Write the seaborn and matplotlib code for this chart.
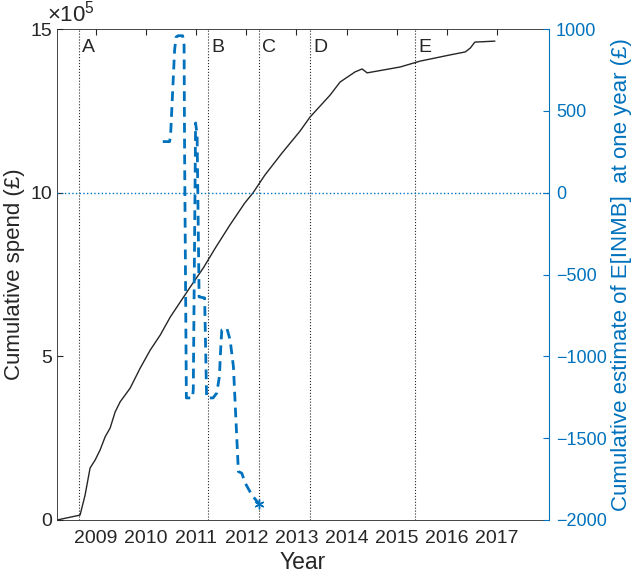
import numpy as np
import pandas as pd
import seaborn as sns
from matplotlib import pyplot as plt

# cumulative spend (pounds) over time
spend_year = [2008.22, 2008.68, 2008.78, 2008.88, 2008.98, 2009.08, 2009.18, 2009.28, 2009.38,
              2009.48, 2009.68, 2009.88, 2010.08, 2010.28, 2010.48, 2010.68, 2010.88, 2011.14,
              2011.38, 2011.67, 2011.97, 2012.13, 2012.37, 2012.71, 2013.07, 2013.27, 2013.67,
              2013.87, 2014.17, 2014.31, 2014.41, 2015.07, 2015.47, 2016.07, 2016.37, 2016.47,
              2016.56, 2016.96]
spend = [0, 15000, 76000, 159000, 183000, 214000, 254000, 281000, 330000,
         361000, 403000, 464000, 519000, 565000, 620000, 666000, 712000, 770000,
         831000, 901000, 969000, 999000, 1054000, 1121000, 1188000, 1231000, 1298000,
         1338000, 1369000, 1378000, 1366000, 1384000, 1402000, 1421000, 1430000, 1442000,
         1460000, 1463000]

# cumulative estimate of E[INMB] at one year (pounds)
inmb_year = [2010.331, 2010.467, 2010.487, 2010.567, 2010.597, 2010.637, 2010.727, 2010.756,
             2010.766, 2010.802, 2010.926, 2010.940, 2010.986, 2011.016, 2011.056, 2011.166,
             2011.206, 2011.335, 2011.409, 2011.461, 2011.489, 2011.509, 2011.609, 2011.675,
             2011.741, 2011.840, 2011.908, 2011.974, 2012.108, 2012.253]
inmb = [312, 312, 352, 872, 951, 959, 959, 902,
        270, -1254, -1254, -1200, 426, 352, -637, -643,
        -1254, -1254, -1224, -1124, -941, -839, -827, -900,
        -1063, -1704, -1714, -1773, -1847, -1902]

event_year = [2008.66, 2011.24, 2012.25, 2013.27, 2015.37]
event_label = ['A', 'B', 'C', 'D', 'E']
year_ticks = list(range(2009, 2018))

blue = '#0072BD'
dark = '#262626'

sns.set_style('white')
plt.rcParams['font.family'] = ['Liberation Sans', 'DejaVu Sans']
plt.rcParams['mathtext.fontset'] = 'custom'
plt.rcParams['mathtext.rm'] = 'Liberation Sans'

fig = plt.figure(figsize=(6.4, 5.79), dpi=100)
ax1 = fig.add_axes([0.0891, 0.1019, 0.7687, 0.848])
ax2 = ax1.twinx()

df1 = pd.DataFrame({'year': spend_year, 'spend': spend})
df2 = pd.DataFrame({'year': inmb_year, 'inmb': inmb})

sns.lineplot(data=df1, x='year', y='spend', estimator=None, sort=False, color=dark, lw=1, ax=ax1)
sns.lineplot(data=df2, x='year', y='inmb', estimator=None, sort=False, color=blue, lw=2, ax=ax2)
ax2.lines[-1].set_linestyle((0, (3.5, 2.2)))
ax2.plot(inmb_year[-1], inmb[-1], marker=(6, 2, 0), ms=7, mew=1, color=blue)

for x, lab in zip(event_year, event_label):
    ax1.axvline(x, color=dark, ls=':', lw=0.8)
    ax1.text(x + 0.06, 0.963, lab, transform=ax1.get_xaxis_transform(), fontsize=14,
             color=dark, va='center', ha='left')
ax2.axhline(0, color=blue, ls=':', lw=1)

ax1.set_xlim(2008.22, 2018.04)
ax1.set_ylim(0, 15e5)
ax1.set_xticks(year_ticks)
ax1.set_xticklabels([str(y) for y in year_ticks])
ax1.set_yticks([0, 5e5, 10e5, 15e5])
ax1.set_yticklabels(['0', '5', '10', '15'])
ax2.set_ylim(-2000, 1000)
ax2.set_yticks(range(-2000, 1001, 500))

ax1.tick_params(axis='both', direction='in', length=4, labelsize=14, colors=dark, top=True)
ax1.tick_params(axis='x', pad=7)
ax2.tick_params(axis='y', direction='in', length=4, labelsize=13, colors=blue, pad=5)

ax1.set_xlabel('Year', fontsize=16.5, color=dark, labelpad=3)
ax1.set_ylabel('Cumulative spend (£)', fontsize=16, color=dark, labelpad=4)
ax2.set_ylabel('Cumulative estimate of E[INMB]  at one year (£)', fontsize=16, color=blue, labelpad=3)
ax1.text(-0.02, 1.005, r'$\times10^5$', transform=ax1.transAxes, fontsize=16, color=dark,
         ha='left', va='bottom')

for s in ['left', 'top', 'bottom']:
    ax1.spines[s].set_color(dark)
    ax1.spines[s].set_linewidth(0.6)
ax2.spines['right'].set_color(blue)
ax2.spines['right'].set_linewidth(0.8)
for s in ['left', 'top', 'bottom']:
    ax2.spines[s].set_visible(False)
ax1.spines['right'].set_visible(False)

fig.savefig('out.png', dpi=100)
